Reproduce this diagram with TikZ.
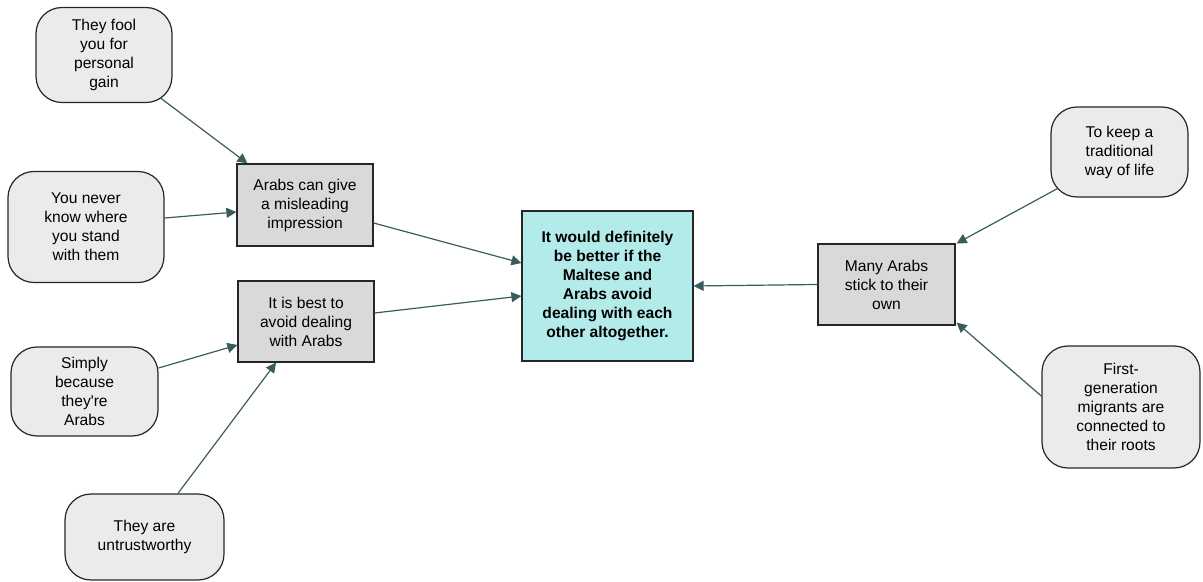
\documentclass[tikz,border=0pt]{standalone}
\usepackage{fontspec}
\setmainfont{Liberation Sans}
\usetikzlibrary{arrows.meta,calc}
\definecolor{lnk}{HTML}{3A5C5C}
\definecolor{rsn}{HTML}{EBEBEB}
\definecolor{clm}{HTML}{D9D9D9}
\definecolor{mn}{HTML}{B3EBEB}
\tikzset{
  rs/.style={rectangle, rounded corners=13pt, align=center, draw=black!85, fill=rsn, line width=0.6pt, font=\fontsize{7.8}{9.5}\selectfont, inner sep=0pt},
  cl/.style={rectangle, align=center, draw=black!85, fill=clm, line width=0.6pt, font=\fontsize{7.8}{9.5}\selectfont, inner sep=0pt},
  mc/.style={rectangle, align=center, draw=black!85, fill=mn, line width=0.6pt, font=\fontsize{7.8}{9.5}\selectfont\bfseries, inner sep=0pt},
  lk/.style={draw=lnk, line width=0.6pt, -{Triangle[length=5pt,width=5pt]}}
}
\begin{document}
\begin{tikzpicture}[x=0.5pt,y=-0.5pt]
	\useasboundingbox (0,0) rectangle (1203,582);
	\node[mc, minimum width=85.5pt, minimum height=75pt] (better) at (607.5,286) {It would definitely\\be better if the\\Maltese and\\Arabs avoid\\dealing with each\\other altogether.};
	\node[cl, minimum width=68pt, minimum height=41pt] (mislead) at (305,205) {Arabs can give\\a misleading\\impression};
	\node[cl, minimum width=68pt, minimum height=40.5pt] (avoid) at (306,321.5) {It is best to\\avoid dealing\\with Arabs};
	\node[cl, minimum width=68.5pt, minimum height=40.5pt] (stick) at (886.5,284.5) {Many Arabs\\stick to their\\own};
	%
	\node[rs, minimum width=68pt, minimum height=47.5pt] (fool) at (104,55) {They fool\\you for\\personal\\gain};
	\node[rs, minimum width=78pt, minimum height=55.5pt] (never) at (86,227) {You never\\know where\\you stand\\with them};
	\node[rs, minimum width=73.5pt, minimum height=44.5pt] (simply) at (84.5,391.5) {Simply\\because\\they\textquotesingle re\\Arabs};
	\node[rs, minimum width=79.5pt, minimum height=43pt] (untrust) at (144.5,537) {They are\\untrustworthy};
	\node[rs, minimum width=68.5pt, minimum height=45pt] (tradition) at (1119.5,152) {To keep a\\traditional\\way of life};
	\node[rs, minimum width=79pt, minimum height=61pt] (roots) at (1121,407) {First-\\generation\\migrants are\\connected to\\their roots};
	%
	\draw[lk] ($(fool.south east)+(-12,-5)$) -- ($(mislead.north west)+(11,0)$);
	\draw[lk] ($(never.east)+(0,-9)$) -- ($(mislead.west)+(0,7)$);
	\draw[lk] ($(simply.east)+(0,-23.5)$) -- ($(avoid.west)+(0,23.5)$);
	\draw[lk] ($(untrust.north)+(33.5,0)$) -- ($(avoid.south)+(-30,0)$);
	\draw[lk] ($(mislead.east)+(0,18)$) -- ($(better.west)+(0,-23)$);
	\draw[lk] ($(avoid.east)+(0,-8.5)$) -- ($(better.west)+(0,10)$);
	\draw[lk] (stick.west) -- (better.east);
	\draw[lk] ($(tradition.south west)+(7,-9)$) -- ($(stick.north east)+(1,0)$);
	\draw[lk] ($(roots.west)+(1,-10)$) -- ($(stick.south east)+(1,-3)$);
\end{tikzpicture}
\end{document}
